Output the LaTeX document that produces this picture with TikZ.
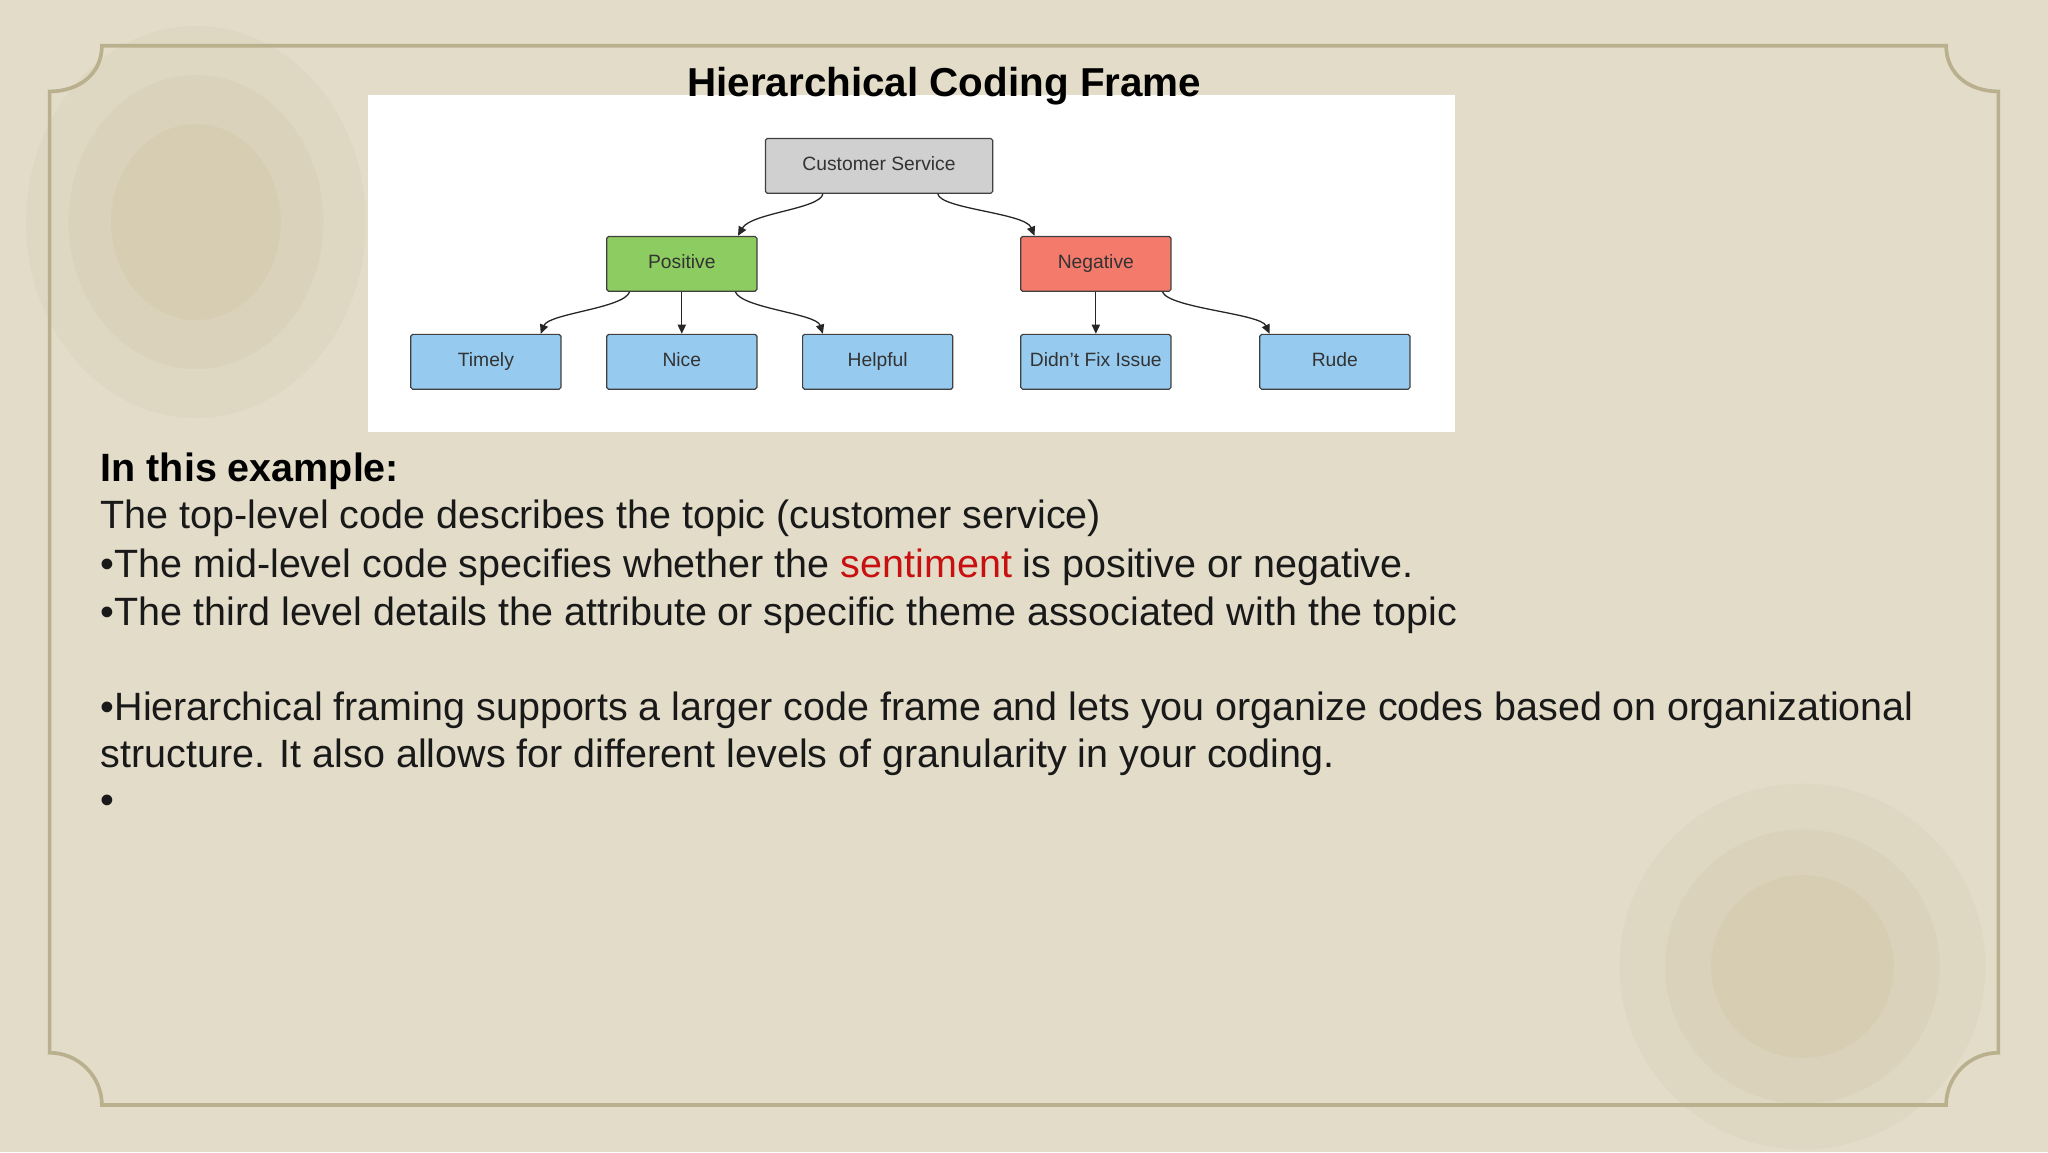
\documentclass[tikz,border=0pt]{standalone}
\usepackage{fontspec}
\setmainfont{Liberation Sans}
\usetikzlibrary{arrows.meta}
\definecolor{bg}{RGB}{226,220,201}
\definecolor{frame}{RGB}{186,176,142}
\definecolor{blot}{RGB}{205,193,158}
\definecolor{gbox}{RGB}{208,208,208}
\definecolor{pbox}{RGB}{140,204,96}
\definecolor{nbox}{RGB}{244,122,108}
\definecolor{lbox}{RGB}{150,202,238}
\definecolor{sred}{RGB}{200,16,16}
\definecolor{txt}{RGB}{25,25,25}
\tikzset{
  box/.style={draw=black!75,line width=1.3pt,rounded corners=2pt,minimum height=2.1cm,minimum width=5.75cm,font=\fontsize{21}{23}\selectfont,text=black!80,text height=15pt,text depth=4pt},
  edge/.style={line width=1.4pt,draw=black!85,-{Triangle[length=10pt,width=9pt]}},
  body/.style={anchor=west,font=\fontsize{43}{50}\selectfont,text=txt,inner sep=0}
}
\begin{document}
\begin{tikzpicture}[x=0.05cm,y=-0.05cm]
\useasboundingbox (0,0) rectangle (1568,882);
\fill[bg] (0,0) rectangle (1568,882);
% blotches
\foreach \s/\o in {1/0.18,0.75/0.2,0.5/0.25}{
 \fill[blot,opacity=\o] (150,170) ellipse ({130*\s} and {150*\s});
 \fill[blot,opacity=\o] (1380,740) ellipse ({140*\s} and {140*\s});}
% frame
\draw[frame,line width=4pt]
 (78,35) -- (1490,35) .. controls (1490,57) and (1508,70) .. (1530,70)
 -- (1530,806) .. controls (1508,806) and (1490,824) .. (1490,846)
 -- (78,846) .. controls (78,824) and (60,806) .. (38,806)
 -- (38,70) .. controls (60,70) and (78,57) .. (78,35) -- cycle;
% diagram
\fill[white] (282,73) rectangle (1114,331);
\node[font=\bfseries\fontsize{44}{48}\selectfont,text=black] (title) at (723,66) {Hierarchical Coding Frame};
\node[box,fill=gbox,minimum width=8.7cm] (cs) at (673,127) {Customer Service};
\node[box,fill=pbox] (pos) at (522,202) {Positive};
\node[box,fill=nbox] (neg) at (839,202) {Negative};
\node[box,fill=lbox] (tim) at (372,277) {Timely};
\node[box,fill=lbox] (nic) at (522,277) {Nice};
\node[box,fill=lbox] (hel) at (672,277) {Helpful};
\node[box,fill=lbox] (dfi) at (839,277) {Didn't Fix Issue};
\node[box,fill=lbox] (rud) at (1022,277) {Rude};
\draw[edge] (cs.south -| 630,0) .. controls (628,160) and (575,163) .. (pos.north -| 565,0);
\draw[edge] (cs.south -| 718,0) .. controls (720,160) and (785,163) .. (neg.north -| 792,0);
\draw[edge] (pos.south -| 482,0) .. controls (478,236) and (420,240) .. (tim.north -| 414,0);
\draw[edge] (pos.south) -- (nic.north);
\draw[edge] (pos.south -| 563,0) .. controls (568,236) and (625,240) .. (hel.north -| 630,0);
\draw[edge] (neg.south) -- (dfi.north);
\draw[edge] (neg.south -| 890,0) .. controls (895,236) and (965,240) .. (rud.north -| 972,0);
% text
\node[body,font=\bfseries\fontsize{43}{50}\selectfont,text=black] (t1) at (77,361) {In this example:};
\node[body] (t2) at (77,397) {The top-level code describes the topic (customer service)};
\node[body] (t3) at (77,434) {•The mid-level code specifies whether the \textcolor{sred}{sentiment} is positive or negative.};
\node[body] (t4) at (77,471) {•The third level details the attribute or specific theme associated with the topic};
\node[body] (t5) at (77,544) {•Hierarchical framing supports a larger code frame and lets you organize codes based on organizational};
\node[body] (t6) at (77,580) {structure. It also allows for different levels of granularity in your coding.};
\node[body] (t7) at (77,616) {•};
\end{tikzpicture}
\end{document}
